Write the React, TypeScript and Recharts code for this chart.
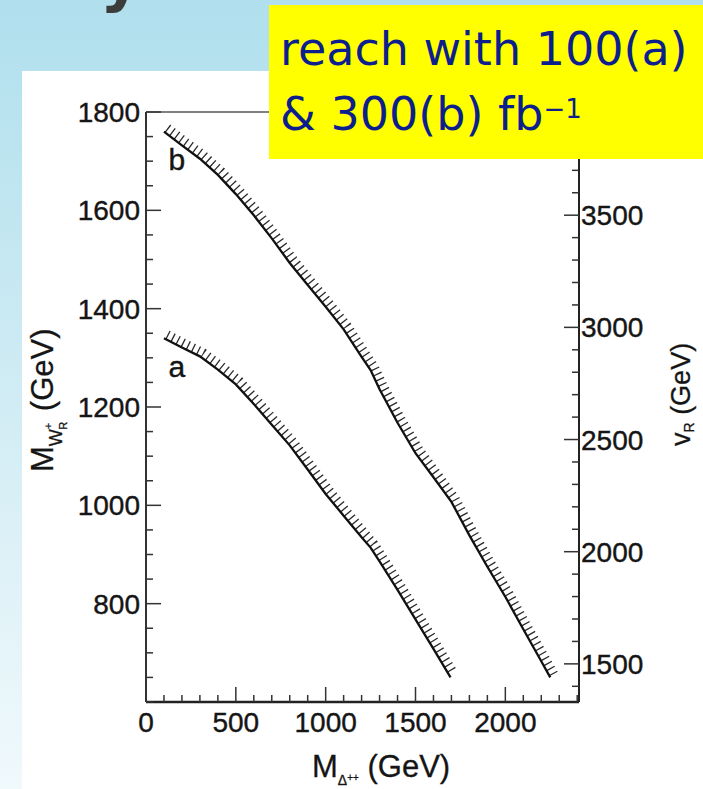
import React from 'react';
import { LineChart, Line, XAxis, YAxis, ReferenceLine, Label } from 'recharts';

// discovery reach curves
const MASS_A = [100, 200, 300, 400, 500, 600, 700, 800, 900, 1000, 1100, 1200, 1250, 1300, 1400, 1500, 1600, 1695];
const MWR_A = [1340, 1321, 1303, 1276, 1246, 1206, 1164, 1122, 1073, 1023, 979, 935, 914, 886, 828, 768, 708, 650];

const MASS_B = [100, 200, 300, 400, 500, 600, 700, 800, 900, 1000, 1100, 1200, 1250, 1300, 1400, 1500, 1600, 1700, 1800, 1900, 2000, 2100, 2200, 2250];
const MWR_B = [1760, 1732, 1705, 1672, 1633, 1590, 1543, 1493, 1448, 1404, 1358, 1302, 1275, 1236, 1168, 1106, 1057, 1007, 939, 875, 814, 748, 683, 650];

const CURVE_NAMES = ['a', 'b'];

const X_TICKS = [0, 100, 200, 300, 400, 500, 600, 700, 800, 900, 1000, 1100, 1200, 1300, 1400, 1500, 1600, 1700, 1800, 1900, 2000, 2100, 2200, 2300, 2400];
const X_LABELS = [0, 500, 1000, 1500, 2000];
const Y_TICKS = [600, 650, 700, 750, 800, 850, 900, 950, 1000, 1050, 1100, 1150, 1200, 1250, 1300, 1350, 1400, 1450, 1500, 1550, 1600, 1650, 1700, 1750, 1800];
const Y_LABELS = [800, 1000, 1200, 1400, 1600, 1800];
const VR_TICKS = [1400, 1500, 1600, 1700, 1800, 1900, 2000, 2100, 2200, 2300, 2400, 2500, 2600, 2700, 2800, 2900, 3000, 3100, 3200, 3300, 3400, 3500, 3600, 3700, 3800, 3900];
const VR_LABELS = [1500, 2000, 2500, 3000, 3500];

const DATA_A = MASS_A.map((m, i) => ({ m, w: MWR_A[i] }));
const DATA_B = MASS_B.map((m, i) => ({ m, w: MWR_B[i] }));

const FONT = '"Liberation Sans", Arial, Helvetica, sans-serif';
const INK = '#151515';

const LeftTick = (props: any) => {
  const { x, y, payload } = props;
  const major = Y_LABELS.includes(payload.value);
  return (
    <g>
      <line x1={x} y1={y} x2={x + (major ? 15 : 7)} y2={y} stroke="#333" strokeWidth={1.5} />
      {major && (
        <text x={x - 6} y={y} dy="0.36em" textAnchor="end" fontSize={28} fontFamily={FONT} fill={INK} stroke={INK} strokeWidth={0.4}>
          {payload.value}
        </text>
      )}
    </g>
  );
};

const RightTick = (props: any) => {
  const { x, y, payload } = props;
  const major = VR_LABELS.includes(payload.value);
  return (
    <g>
      <line x1={x} y1={y} x2={x - (major ? 15 : 7)} y2={y} stroke="#333" strokeWidth={1.5} />
      {major && (
        <text x={x + 2} y={y} dy="0.36em" textAnchor="start" fontSize={28} fontFamily={FONT} fill={INK} stroke={INK} strokeWidth={0.4}>
          {payload.value}
        </text>
      )}
    </g>
  );
};

const BottomTick = (props: any) => {
  const { x, y, payload } = props;
  const major = X_LABELS.includes(payload.value);
  return (
    <g>
      <line x1={x} y1={y} x2={x} y2={y - (major ? 15 : 7)} stroke="#333" strokeWidth={1.5} />
      {major && (
        <text x={x} y={y + 30} textAnchor="middle" fontSize={28} fontFamily={FONT} fill={INK} stroke={INK} strokeWidth={0.4}>
          {payload.value}
        </text>
      )}
    </g>
  );
};

const BottomTitle = (props: any) => {
  const vb = props.viewBox;
  const x = vb.x + 166;
  const y = vb.y + 75;
  return (
    <text x={x} y={y} fontSize={31} fontFamily={FONT} fill={INK} stroke={INK} strokeWidth={0.3}>
      M
      <tspan fontSize={14} dy={8}>Δ</tspan>
      <tspan fontSize={10} dy={-4}>++</tspan>
      <tspan fontSize={31} dy={-4}> (GeV)</tspan>
    </text>
  );
};

const LeftTitle = (props: any) => {
  const vb = props.viewBox;
  const x = vb.x + 7;
  const y = vb.y + 360;
  return (
    <text x={x} y={y} transform={`rotate(-90 ${x} ${y})`} fontSize={31} fontFamily={FONT} fill={INK} stroke={INK} strokeWidth={0.3}>
      M
      <tspan fontSize={18} dy={9}>W</tspan>
      <tspan fontSize={11} dy={-10}>+</tspan>
      <tspan fontSize={11} dx={-7} dy={15}>R</tspan>
      <tspan fontSize={31} dx={2} dy={-14}> (GeV)</tspan>
    </text>
  );
};

const RightTitle = (props: any) => {
  const vb = props.viewBox;
  const x = vb.x + 111;
  const y = vb.y + 334;
  return (
    <text x={x} y={y} transform={`rotate(-90 ${x} ${y})`} fontSize={27} fontFamily={FONT} fill={INK} stroke={INK} strokeWidth={0.3}>
      v
      <tspan fontSize={14} dy={4}>R</tspan>
      <tspan fontSize={27} dy={-4}> (GeV)</tspan>
    </text>
  );
};

const curveLabel = (name: string) => (props: any) => {
  const { x, y, index } = props;
  if (index !== 0) return null;
  return (
    <text x={x + 13} y={y + 28} dy="0.36em" textAnchor="middle" fontSize={30} fontFamily={FONT} fill={INK} stroke={INK} strokeWidth={0.4}>
      {name}
    </text>
  );
};

export default function App() {
  return (
    <div
      style={{
        position: 'absolute',
        left: 0,
        top: 0,
        width: 703,
        height: 789,
        overflow: 'hidden',
        background: 'linear-gradient(180deg, #b1dfed 0%, #b9e3ef 15%, #d4edf5 55%, #f0f9fc 100%)',
      }}
    >
      <style>{`.hatch path { transform: translate(3.5px, -3.5px); }`}</style>
      <div style={{ position: 'absolute', left: 22, top: 71, right: 0, bottom: 0, background: '#fff' }} />
      <div style={{ position: 'absolute', left: 0, top: 0 }}>
        <LineChart width={703} height={789} margin={{ top: 112, right: 24, bottom: 27, left: 46 }}>
          <XAxis
            dataKey="m"
            type="number"
            domain={[0, 2410]}
            ticks={X_TICKS}
            interval={0}
            allowDataOverflow
            height={60}
            tickSize={0}
            tickMargin={0}
            tickLine={false}
            axisLine={{ stroke: '#222', strokeWidth: 2.5 }}
            tick={<BottomTick />}
          >
            <Label content={<BottomTitle />} />
          </XAxis>
          <YAxis
            type="number"
            domain={[600, 1800]}
            ticks={Y_TICKS}
            interval={0}
            allowDataOverflow
            width={100}
            tickSize={0}
            tickMargin={0}
            tickLine={false}
            axisLine={{ stroke: '#333', strokeWidth: 2 }}
            tick={<LeftTick />}
          >
            <Label content={<LeftTitle />} />
          </YAxis>
          <YAxis
            yAxisId="vr"
            orientation="right"
            type="number"
            domain={[1330, 3960]}
            ticks={VR_TICKS}
            interval={0}
            allowDataOverflow
            width={100}
            tickSize={0}
            tickMargin={0}
            tickLine={false}
            axisLine={{ stroke: '#222', strokeWidth: 2 }}
            tick={<RightTick />}
          >
            <Label content={<RightTitle />} />
          </YAxis>
          <ReferenceLine y={1800} stroke="#555" strokeWidth={1.5} />
          <Line
            className="hatch"
            data={DATA_A}
            dataKey="w"
            type="linear"
            stroke="#2a2a2a"
            strokeWidth={9}
            strokeDasharray="1.3 4.4"
            dot={false}
            activeDot={false}
            isAnimationActive={false}
          />
          <Line
            className="hatch"
            data={DATA_B}
            dataKey="w"
            type="linear"
            stroke="#2a2a2a"
            strokeWidth={9}
            strokeDasharray="1.3 4.4"
            dot={false}
            activeDot={false}
            isAnimationActive={false}
          />
          <Line
            data={DATA_A}
            dataKey="w"
            type="linear"
            stroke="#111"
            strokeWidth={2.3}
            dot={false}
            activeDot={false}
            isAnimationActive={false}
            label={curveLabel(CURVE_NAMES[0])}
          />
          <Line
            data={DATA_B}
            dataKey="w"
            type="linear"
            stroke="#111"
            strokeWidth={2.3}
            dot={false}
            activeDot={false}
            isAnimationActive={false}
            label={curveLabel(CURVE_NAMES[1])}
          />
        </LineChart>
      </div>
      <svg width={703} height={789} style={{ position: 'absolute', left: 0, top: 0, pointerEvents: 'none' }}>
        <text x={100} y={-1} fontSize={64} fontWeight="bold" fontFamily='"DejaVu Sans", sans-serif' fill="#3c3c3c">
          y
        </text>
        <rect x={269} y={5} width={434} height={154} fill="#ffff00" />
        <text x={280} y={65} fontSize={46} fontFamily='"Comic Sans MS", "DejaVu Sans", sans-serif' fill="#0c1f8c">
          reach with 100(a)
        </text>
        <text x={280} y={130} fontSize={46} fontFamily='"Comic Sans MS", "DejaVu Sans", sans-serif' fill="#0c1f8c">
          {'& 300(b) fb'}
          <tspan fontSize={26} dy={-12}>−1</tspan>
        </text>
      </svg>
    </div>
  );
}
